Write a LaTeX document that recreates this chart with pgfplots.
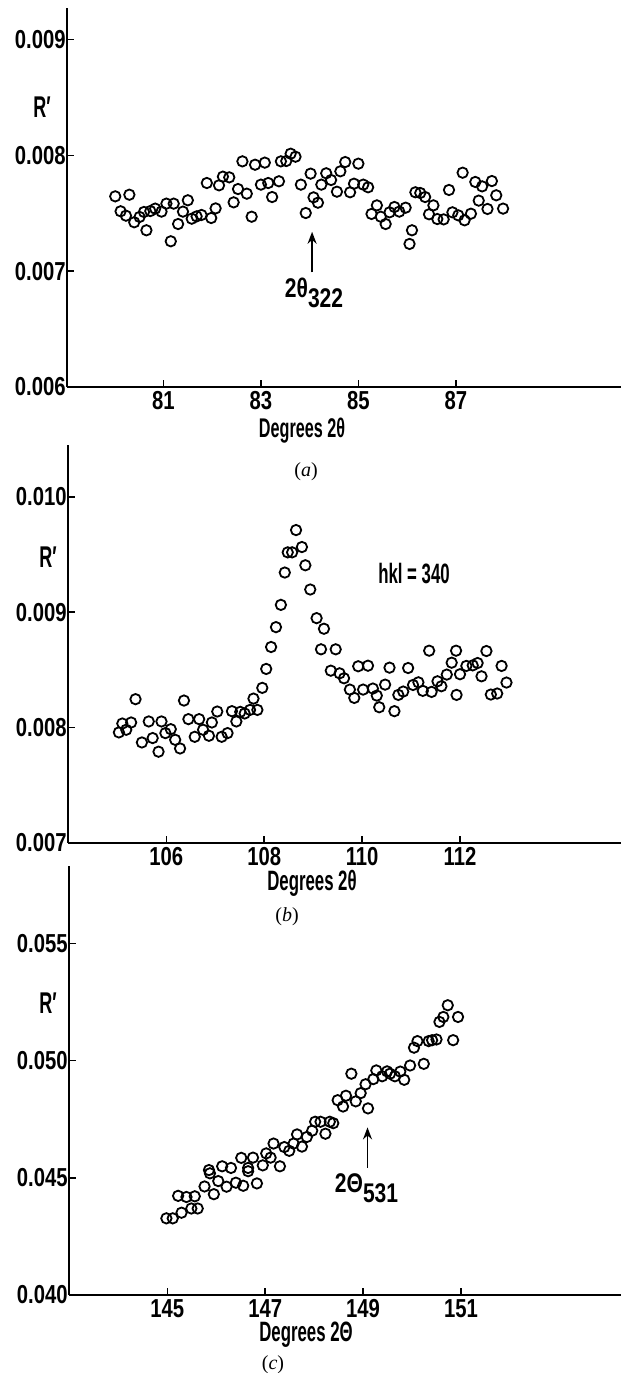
\documentclass[border=0pt]{standalone}
\usepackage{fontspec}
\setmainfont{Liberation Sans}
\newfontfamily\tickfont{Liberation Sans}[FakeStretch=0.78]
\newfontfamily\labfont{Liberation Sans}[FakeStretch=0.6]
\newfontfamily\capfont{Liberation Serif}
\usepackage{pgfplots}
\pgfplotsset{compat=1.18}
\usetikzlibrary{arrows.meta}

\pgfplotsset{
  panel/.style={
    scale only axis, anchor=south west,
    axis x line=bottom, axis y line=left,
    axis line style={-, line width=1pt},
    tick align=inside, major tick length=3.5pt,
    tick style={line width=0.8pt, black},
    tick label style={font=\tickfont\bfseries\fontsize{13}{13}\selectfont},
    yticklabel style={inner xsep=0.5pt},
    xticklabel style={inner ysep=1pt, yshift=-1pt},
    /pgf/number format/assume math mode=true,
    scaled y ticks=false,
    clip=false,
  },
  circ/.style={only marks, mark=o, mark size=2.6pt,
    mark options={line width=0.9pt, black}},
}
\newcommand{\lab}{\labfont\bfseries\fontsize{14}{14}\selectfont}
\newcommand{\ann}{\tickfont\bfseries\fontsize{13.5}{14}\selectfont}

\begin{document}
\begin{tikzpicture}
\path[use as bounding box] (0,0) rectangle (310.5pt,686.5pt);

% ---------------- (a)
\begin{axis}[panel, at={(33.5pt,493pt)}, width=277pt, height=189.5pt,
  xmin=79.02, xmax=90.39, ymin=0.006, ymax=0.009272,
  xtick={81,83,85,87}, xticklabels={81,83,85,87},
  ytick={0.006,0.007,0.008,0.009}, yticklabels={0.006,0.007,0.008,0.009}]
\addplot[circ] table {
x y
80.01 0.007646
80.12 0.007517
80.23 0.007479
80.30 0.007660
80.40 0.007422
80.51 0.007468
80.60 0.007511
80.65 0.007353
80.73 0.007519
80.83 0.007540
80.96 0.007514
81.06 0.007583
81.15 0.007258
81.21 0.007583
81.30 0.007407
81.40 0.007514
81.50 0.007612
81.58 0.007453
81.68 0.007473
81.78 0.007485
81.89 0.007761
81.98 0.007459
82.07 0.007542
82.14 0.007741
82.22 0.007816
82.35 0.007810
82.44 0.007594
82.53 0.007709
82.62 0.007948
82.71 0.007669
82.81 0.007470
82.88 0.007919
83.00 0.007747
83.08 0.007937
83.15 0.007761
83.23 0.007640
83.37 0.007776
83.41 0.007948
83.52 0.007951
83.61 0.008014
83.71 0.007988
83.82 0.007747
83.92 0.007502
84.02 0.007842
84.08 0.007637
84.17 0.007591
84.24 0.007747
84.34 0.007845
84.44 0.007787
84.56 0.007686
84.63 0.007862
84.73 0.007942
84.83 0.007681
84.91 0.007755
85.00 0.007928
85.10 0.007747
85.20 0.007724
85.27 0.007494
85.38 0.007568
85.46 0.007470
85.56 0.007407
85.64 0.007508
85.74 0.007554
85.84 0.007514
85.97 0.007548
86.05 0.007235
86.10 0.007353
86.17 0.007681
86.27 0.007675
86.37 0.007640
86.45 0.007491
86.54 0.007568
86.62 0.007450
86.75 0.007447
86.86 0.007701
86.93 0.007508
87.05 0.007482
87.14 0.007850
87.18 0.007439
87.31 0.007496
87.40 0.007770
87.47 0.007609
87.54 0.007732
87.65 0.007537
87.74 0.007778
87.83 0.007655
87.97 0.007540
};
\draw[-{Stealth[length=6pt,width=4.5pt]}, line width=0.9pt]
  (axis cs:84.05,0.00699) -- (axis cs:84.05,0.00734);
\node[font=\ann, inner sep=0pt] at (axis cs:84.09,0.00681)
  {2θ\raisebox{-5pt}{322}};
\end{axis}
\node[font=\labfont\bfseries\fontsize{15}{15}\selectfont, inner sep=0pt] at (21pt,633pt) {R′};
\node[font=\labfont\bfseries\fontsize{13.5}{14}\selectfont, inner sep=0pt] at (151pt,471pt) {Degrees 2θ};
\node[font=\capfont\fontsize{10}{12}\selectfont, inner sep=0pt] at (153pt,450.5pt) {(\textit{a})};

% ---------------- (b)
\begin{axis}[panel, at={(34pt,265pt)}, width=276.5pt, height=199pt,
  xmin=103.99, xmax=115.29, ymin=0.007, ymax=0.010448,
  xtick={106,108,110,112}, xticklabels={106,108,110,112},
  ytick={0.007,0.008,0.009,0.010}, yticklabels={0.007,0.008,0.009,0.010}]
\addplot[circ] table {
x y
105.03 0.007958
105.10 0.008035
105.18 0.007981
105.28 0.008044
105.37 0.008246
105.50 0.007871
105.64 0.008053
105.72 0.007909
105.84 0.007791
105.90 0.008053
105.98 0.007952
106.09 0.007986
106.18 0.007894
106.28 0.007819
106.36 0.008234
106.45 0.008073
106.58 0.007920
106.67 0.008073
106.75 0.007981
106.87 0.007929
106.93 0.008044
107.04 0.008139
107.13 0.007920
107.25 0.007952
107.34 0.008142
107.43 0.008053
107.51 0.008136
107.60 0.008122
107.71 0.008153
107.78 0.008251
107.86 0.008153
107.96 0.008344
108.04 0.008508
108.14 0.008698
108.24 0.008870
108.34 0.009063
108.42 0.009343
108.48 0.009518
108.57 0.009518
108.65 0.009711
108.77 0.009564
108.84 0.009406
108.94 0.009196
109.07 0.008948
109.16 0.008678
109.22 0.008856
109.36 0.008493
109.46 0.008678
109.54 0.008470
109.63 0.008427
109.75 0.008329
109.84 0.008257
109.92 0.008531
110.02 0.008329
110.12 0.008536
110.22 0.008338
110.30 0.008277
110.35 0.008176
110.47 0.008372
110.56 0.008519
110.66 0.008142
110.74 0.008283
110.84 0.008312
110.94 0.008516
111.04 0.008369
111.15 0.008392
111.24 0.008318
111.37 0.008666
111.42 0.008309
111.54 0.008401
111.62 0.008358
111.73 0.008459
111.83 0.008562
111.93 0.008283
111.92 0.008666
112.00 0.008462
112.13 0.008534
112.26 0.008539
112.36 0.008559
112.44 0.008444
112.54 0.008663
112.63 0.008286
112.76 0.008295
112.85 0.008534
112.95 0.008390
};
\node[font=\lab, inner sep=0pt] at (axis cs:111.06,0.009334) {hkl = 340};
\end{axis}
\node[font=\labfont\bfseries\fontsize{15}{15}\selectfont, inner sep=0pt] at (24pt,408pt) {R′};
\node[font=\lab, inner sep=0pt] at (156pt,245pt) {Degrees 2θ};
\node[font=\capfont\fontsize{10}{12}\selectfont, inner sep=0pt] at (143.5pt,228pt) {(\textit{b})};

% ---------------- (c)
\begin{axis}[panel, at={(34.5pt,39pt)}, width=276pt, height=214.5pt,
  xmin=142.99, xmax=154.27, ymin=0.040, ymax=0.0583,
  xtick={145,147,149,151}, xticklabels={145,147,149,151},
  ytick={0.040,0.045,0.050,0.055}, yticklabels={0.040,0.045,0.050,0.055}]
\addplot[circ] table {
x y
144.98 0.04327
145.11 0.04327
145.22 0.04423
145.29 0.04351
145.39 0.04418
145.49 0.04369
145.56 0.04421
145.62 0.04369
145.76 0.04463
145.85 0.04533
145.87 0.04519
145.95 0.04430
146.04 0.04486
146.12 0.04549
146.21 0.04462
146.30 0.04542
146.40 0.04479
146.51 0.04585
146.55 0.04466
146.65 0.04542
146.65 0.04528
146.75 0.04586
146.83 0.04476
146.95 0.04553
147.02 0.04604
147.11 0.04586
147.17 0.04646
147.30 0.04549
147.39 0.04631
147.49 0.04615
147.58 0.04646
147.65 0.04685
147.75 0.04633
147.85 0.04674
147.96 0.04701
148.02 0.04739
148.13 0.04739
148.23 0.04688
148.32 0.04739
148.39 0.04733
148.48 0.04831
148.59 0.04804
148.65 0.04850
148.76 0.04944
148.85 0.04826
148.95 0.04861
149.05 0.04899
149.10 0.04796
149.21 0.04921
149.27 0.04958
149.39 0.04933
149.49 0.04954
149.55 0.04944
149.65 0.04933
149.76 0.04953
149.84 0.04918
149.96 0.04979
150.04 0.05055
150.11 0.05083
150.24 0.04986
150.34 0.05083
150.41 0.05087
150.50 0.05090
150.56 0.05165
150.64 0.05186
150.73 0.05236
150.84 0.05087
150.94 0.05186
};
\draw[-{Stealth[length=6pt,width=4.5pt]}, line width=0.9pt]
  (axis cs:149.09,0.04542) -- (axis cs:149.09,0.04715);
\node[font=\ann, inner sep=0pt] at (axis cs:149.07,0.04455)
  {2Θ\raisebox{-5pt}{531}};
\end{axis}
\node[font=\labfont\bfseries\fontsize{15}{15}\selectfont, inner sep=0pt] at (24pt,185pt) {R′};
\node[font=\lab, inner sep=0pt] at (153pt,19pt) {Degrees 2Θ};
\node[font=\capfont\fontsize{10}{12}\selectfont, inner sep=0pt] at (136.5pt,4pt) {(\textit{c})};
\end{tikzpicture}
\end{document}
